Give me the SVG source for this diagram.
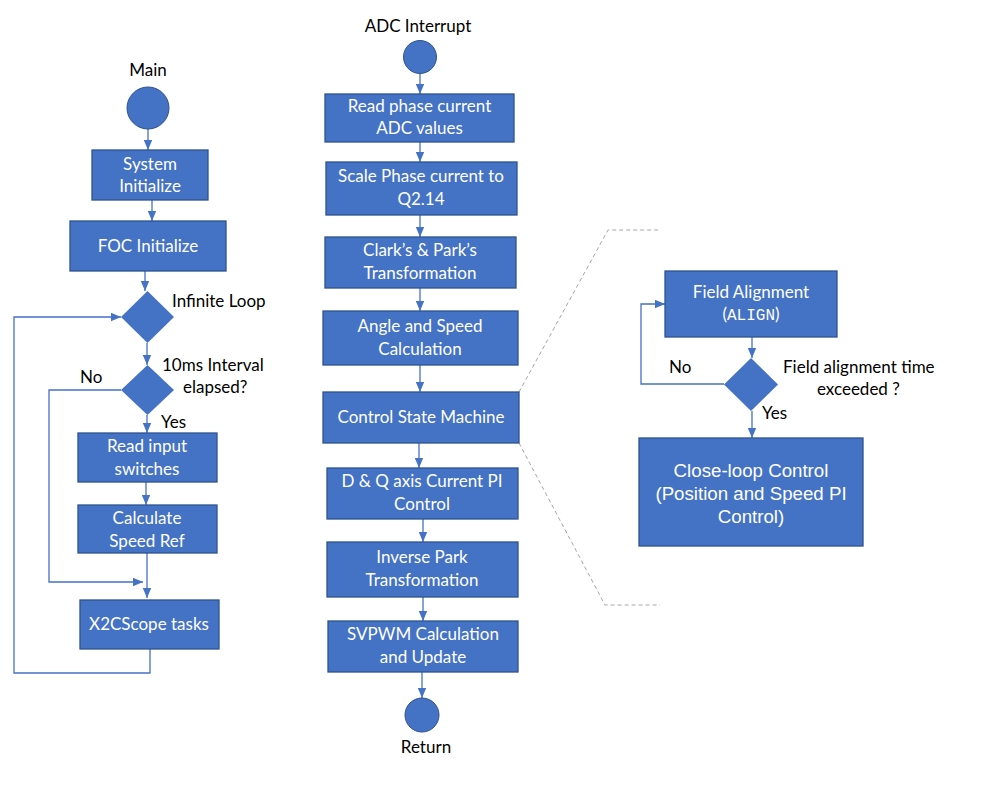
<svg xmlns="http://www.w3.org/2000/svg" width="990" height="789" viewBox="0 0 990 789">
<defs>
<marker id="ah" markerUnits="userSpaceOnUse" markerWidth="10" markerHeight="10" viewBox="0 0 10 10" refX="10" refY="5" orient="auto">
<path d="M0,0.8 L10,5 L0,9.2 Z" fill="#4472C4"/>
</marker>
<style>
.box{fill:#4472C4;stroke:#2F528F;stroke-width:1.3}
.t{font-family:Lato,"Liberation Sans",sans-serif;font-size:17px;fill:#fff;text-anchor:middle}
.a{font-family:"Liberation Sans",Arial,sans-serif;font-size:18.7px;fill:#fff;text-anchor:middle}
.m{font-family:"Liberation Mono","Courier New",monospace;font-size:16px;fill:#fff}
.l{font-family:Lato,"Liberation Sans",sans-serif;font-size:17px;fill:#000}
.c{fill:none;stroke:#4472C4;stroke-width:1.3}
.ca{fill:none;stroke:#4472C4;stroke-width:1.3;marker-end:url(#ah)}
.d{fill:none;stroke:#A6A6A6;stroke-width:1;stroke-dasharray:4 3}
</style>
</defs>
<rect width="990" height="789" fill="#fff"/>

<g id="connectors">
<line class="ca" x1="148" y1="129" x2="148" y2="150"/>
<line class="ca" x1="152" y1="200" x2="152" y2="221"/>
<line class="ca" x1="145" y1="271" x2="145" y2="291"/>
<line class="ca" x1="147" y1="343" x2="147" y2="365"/>
<line class="ca" x1="147" y1="415" x2="147" y2="433"/>
<line class="ca" x1="146" y1="482" x2="146" y2="505"/>
<line class="ca" x1="147" y1="553" x2="147" y2="598"/>
<polyline class="ca" points="121,390 49,390 49,582 143,582"/>
<polyline class="ca" points="150,649 150,673 14,673 14,317 121,317"/>

<line class="ca" x1="420" y1="73" x2="420" y2="94"/>
<line class="ca" x1="420" y1="142" x2="420" y2="162"/>
<line class="ca" x1="420" y1="215" x2="420" y2="237"/>
<line class="ca" x1="420" y1="288" x2="420" y2="311"/>
<line class="ca" x1="420" y1="365" x2="420" y2="392"/>
<line class="ca" x1="419" y1="443" x2="419" y2="468"/>
<line class="ca" x1="423" y1="519" x2="423" y2="542"/>
<line class="ca" x1="423" y1="597" x2="423" y2="621"/>
<line class="ca" x1="422" y1="672" x2="422" y2="698"/>

<line class="ca" x1="752" y1="337" x2="752" y2="358"/>
<polyline class="ca" points="724,384 641,384 641,304 665,304"/>
<line class="ca" x1="752" y1="411" x2="752" y2="438"/>

<polyline class="d" points="519,392 608,230 660,230"/>
<polyline class="d" points="519,443 605,605 660,605"/>
</g>

<g id="main-start">
<text class="l" x="148" y="76" text-anchor="middle">Main</text>
<circle cx="148" cy="108" r="21" fill="#4472C4" stroke="#2F528F" stroke-width="1"/>
</g>
<g id="system-init">
<rect class="box" x="92" y="150" width="116" height="50"/>
<text class="t" x="150" y="170">System</text>
<text class="t" x="150" y="192">Initialize</text>
</g>
<g id="foc-init">
<rect class="box" x="70" y="221" width="156" height="50"/>
<text class="t" x="148" y="252">FOC Initialize</text>
</g>
<g id="infinite-loop">
<polygon points="147.5,291 174,317 147.5,343 121,317" fill="#4472C4"/>
<text class="l" x="172" y="307">Infinite Loop</text>
</g>
<g id="interval">
<polygon points="147.5,365 174,390 147.5,415 121,390" fill="#4472C4"/>
<text class="l" x="162" y="371">10ms Interval</text>
<text class="l" x="183" y="393">elapsed?</text>
<text class="l" x="80" y="383">No</text>
<text class="l" x="161" y="428">Yes</text>
</g>
<g id="read-input">
<rect class="box" x="78" y="433" width="139" height="49"/>
<text class="t" x="147" y="452">Read input</text>
<text class="t" x="147" y="475">switches</text>
</g>
<g id="calc-speed">
<rect class="box" x="78" y="505" width="139" height="48"/>
<text class="t" x="147" y="524">Calculate</text>
<text class="t" x="147" y="547">Speed Ref</text>
</g>
<g id="x2cscope">
<rect class="box" x="80" y="600" width="139" height="49"/>
<text class="t" x="149" y="630">X2CScope tasks</text>
</g>

<g id="adc-start">
<text class="l" x="418" y="32" text-anchor="middle">ADC Interrupt</text>
<circle cx="420" cy="57" r="16.5" fill="#4472C4" stroke="#2F528F" stroke-width="1"/>
</g>
<g id="read-phase">
<rect class="box" x="325" y="94" width="189" height="48"/>
<text class="t" x="419.5" y="112">Read phase current</text>
<text class="t" x="419.5" y="134">ADC values</text>
</g>
<g id="scale-phase">
<rect class="box" x="326" y="162" width="191" height="53"/>
<text class="t" x="421" y="182">Scale Phase current to</text>
<text class="t" x="421" y="205">Q2.14</text>
</g>
<g id="clark-park">
<rect class="box" x="325" y="237" width="191" height="51"/>
<text class="t" x="420" y="256">Clark’s &amp; Park’s</text>
<text class="t" x="420" y="279">Transformation</text>
</g>
<g id="angle-speed">
<rect class="box" x="323" y="311" width="195" height="54"/>
<text class="t" x="420" y="332">Angle and Speed</text>
<text class="t" x="420" y="355">Calculation</text>
</g>
<g id="control-sm">
<rect class="box" x="323" y="392" width="196" height="51"/>
<text class="t" x="421" y="423">Control State Machine</text>
</g>
<g id="dq-pi">
<rect class="box" x="327" y="468" width="191" height="51"/>
<text class="t" x="422" y="487">D &amp; Q axis Current PI</text>
<text class="t" x="422" y="510">Control</text>
</g>
<g id="inv-park">
<rect class="box" x="327" y="542" width="191" height="55"/>
<text class="t" x="422" y="563">Inverse Park</text>
<text class="t" x="422" y="586">Transformation</text>
</g>
<g id="svpwm">
<rect class="box" x="328" y="621" width="190" height="51"/>
<text class="t" x="423" y="640">SVPWM Calculation</text>
<text class="t" x="423" y="663">and Update</text>
</g>
<g id="return">
<circle cx="422" cy="715" r="17" fill="#4472C4" stroke="#2F528F" stroke-width="1"/>
<text class="l" x="426" y="753" text-anchor="middle">Return</text>
</g>

<g id="field-align">
<rect class="box" x="665" y="271" width="172" height="66"/>
<text class="t" x="751" y="298">Field Alignment</text>
<text x="751" y="320" text-anchor="middle"><tspan class="t">(</tspan><tspan class="m">ALIGN</tspan><tspan class="t">)</tspan></text>
</g>
<g id="align-check">
<polygon points="751,358 778,384.5 751,411 724,384.5" fill="#4472C4"/>
<text class="l" x="783" y="373">Field alignment time</text>
<text class="l" x="817" y="395">exceeded ?</text>
<text class="l" x="669" y="373">No</text>
<text class="l" x="762" y="419">Yes</text>
</g>
<g id="close-loop">
<rect class="box" x="639" y="438" width="224" height="108"/>
<text class="a" x="751" y="477">Close-loop Control</text>
<text class="a" x="751" y="500">(Position and Speed PI</text>
<text class="a" x="751" y="523">Control)</text>
</g>
</svg>
